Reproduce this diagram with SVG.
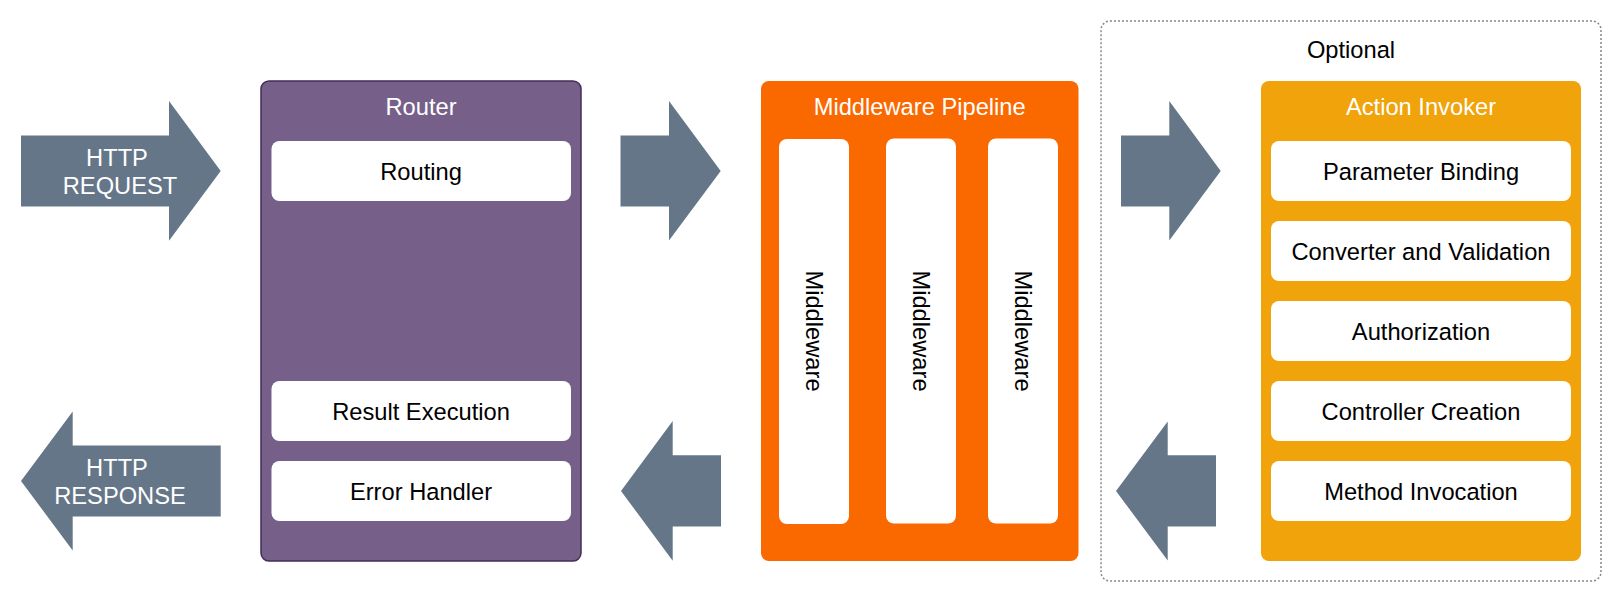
<svg xmlns="http://www.w3.org/2000/svg" width="1622" height="602" viewBox="0 0 1622 602">
<style>
text{font-family:"Liberation Sans",Arial,Helvetica,sans-serif;font-size:23.7px;text-anchor:middle}
.arrow{fill:#647687}
.box{fill:#ffffff}
.lbl{fill:#000000}
.title{fill:#ffffff}
</style>
<rect width="1622" height="602" fill="#ffffff"/>

<g id="optional-group">
  <rect x="1101" y="21" width="500" height="560" rx="9" fill="none" stroke="#888888" stroke-width="1.5" stroke-dasharray="2 2"/>
  <text class="lbl" x="1351" y="58">Optional</text>
</g>

<g id="http-request">
  <polygon class="arrow" points="21,135.5 169,135.5 169,101 220.7,171 169,240.7 169,206.5 21,206.5"/>
  <text class="title" x="117" y="166">HTTP</text>
  <text class="title" x="120" y="194">REQUEST</text>
</g>

<g id="http-response">
  <polygon class="arrow" points="21,481 72.7,411.5 72.7,445.5 220.7,445.5 220.7,516.5 72.7,516.5 72.7,550.5"/>
  <text class="title" x="117" y="476">HTTP</text>
  <text class="title" x="120" y="504">RESPONSE</text>
</g>

<g id="router">
  <rect x="261" y="81" width="320" height="480" rx="8" fill="#76608a" stroke="#432d57" stroke-width="1.5"/>
  <text class="title" x="421" y="115">Router</text>
  <rect class="box" x="271.5" y="141" width="299.5" height="60" rx="8"/>
  <text class="lbl" x="421" y="179.7">Routing</text>
  <rect class="box" x="271.5" y="381" width="299.5" height="60" rx="8"/>
  <text class="lbl" x="421" y="419.7">Result Execution</text>
  <rect class="box" x="271.5" y="461" width="299.5" height="60" rx="8"/>
  <text class="lbl" x="421" y="499.7">Error Handler</text>
</g>

<g id="middleware-pipeline">
  <rect x="761" y="81" width="317.5" height="480" rx="8" fill="#fa6800"/>
  <text class="title" x="919.7" y="115">Middleware Pipeline</text>
  <rect class="box" x="779" y="139" width="70" height="385" rx="8"/>
  <rect class="box" x="886" y="138.5" width="70" height="385" rx="8"/>
  <rect class="box" x="988" y="138.5" width="70" height="385" rx="8"/>
  <text class="lbl" transform="translate(814,331) rotate(90)" x="0" y="8.5">Middleware</text>
  <text class="lbl" transform="translate(921,331) rotate(90)" x="0" y="8.5">Middleware</text>
  <text class="lbl" transform="translate(1023,331) rotate(90)" x="0" y="8.5">Middleware</text>
</g>

<g id="action-invoker">
  <rect x="1261" y="81" width="320" height="480" rx="8" fill="#f0a30a"/>
  <text class="title" x="1421" y="115">Action Invoker</text>
  <rect class="box" x="1271" y="141" width="300" height="60" rx="8"/>
  <text class="lbl" x="1421" y="179.7">Parameter Binding</text>
  <rect class="box" x="1271" y="221" width="300" height="60" rx="8"/>
  <text class="lbl" x="1421" y="259.7">Converter and Validation</text>
  <rect class="box" x="1271" y="301" width="300" height="60" rx="8"/>
  <text class="lbl" x="1421" y="339.7">Authorization</text>
  <rect class="box" x="1271" y="381" width="300" height="60" rx="8"/>
  <text class="lbl" x="1421" y="419.7">Controller Creation</text>
  <rect class="box" x="1271" y="461" width="300" height="60" rx="8"/>
  <text class="lbl" x="1421" y="499.7">Method Invocation</text>
</g>

<g id="connectors">
  <polygon class="arrow" points="620.5,135.5 669,135.5 669,101 720.7,171 669,240.5 669,206.5 620.5,206.5"/>
  <polygon class="arrow" points="621,491 672.7,421 672.7,455.3 721,455.3 721,526.5 672.7,526.5 672.7,560.7"/>
  <polygon class="arrow" points="1121,135.5 1169.3,135.5 1169.3,101 1220.7,171 1169.3,240.5 1169.3,206.5 1121,206.5"/>
  <polygon class="arrow" points="1116,491 1167.7,421.5 1167.7,455.3 1216,455.3 1216,526.5 1167.7,526.5 1167.7,560.5"/>
</g>
</svg>
